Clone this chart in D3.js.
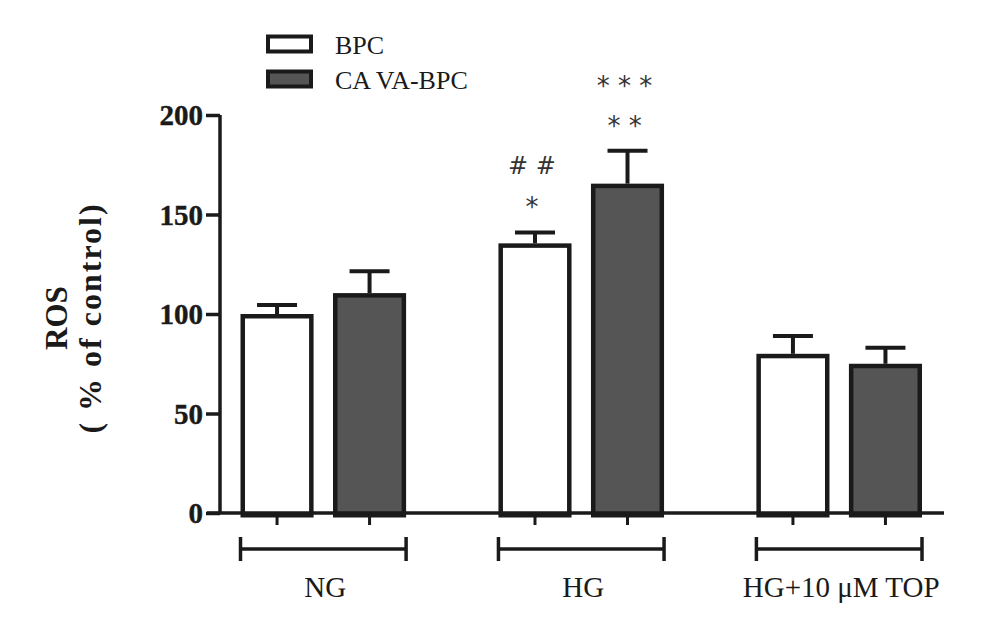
<!DOCTYPE html>
<html><head><meta charset="utf-8">
<script src="https://cdn.jsdelivr.net/npm/d3@7"></script>
<style>body{margin:0;background:#fff}svg{display:block}</style>
</head><body>
<svg id="c" width="985" height="631"></svg>
<script>
const groups = ["NG", "HG", "HG+10 μM TOP"];
const seriesNames = ["BPC", "CA VA-BPC"];
const bpcValues = [100, 135.5, 80];
const bpcErrors = [4.5, 5.5, 9];
const cavaValues = [110.5, 165.5, 75];
const cavaErrors = [11, 16.5, 8];
const yTicks = [0, 50, 100, 150, 200];
const annotations = [
  {group: "HG", series: "BPC", lines: ["# #", "*"]},
  {group: "HG", series: "CA VA-BPC", lines: ["* * *", "* *"]}
];

const fills = {"BPC": "#ffffff", "CA VA-BPC": "#555555"};
const ink = "#1a1a1a";
const svg = d3.select("#c");

const y = d3.scaleLinear().domain([0, 200]).range([513, 115]);
const x = d3.scaleBand().domain(groups).range([240.5, 922]).paddingInner(0.358).paddingOuter(0);
const xs = d3.scaleBand().domain(seriesNames).range([0, x.bandwidth()]).paddingInner(0.21).paddingOuter(0);

const data = [];
groups.forEach((g, i) => {
  data.push({group: g, series: "BPC", value: bpcValues[i], err: bpcErrors[i]});
  data.push({group: g, series: "CA VA-BPC", value: cavaValues[i], err: cavaErrors[i]});
});

const sw = 4.5;
// error bars
const eb = svg.append("g").attr("stroke", ink).attr("stroke-width", 4);
data.forEach(d => {
  const cx = x(d.group) + xs(d.series) + xs.bandwidth() / 2;
  eb.append("line").attr("x1", cx).attr("x2", cx).attr("y1", y(d.value)).attr("y2", y(d.value + d.err));
  eb.append("line").attr("x1", cx - 20).attr("x2", cx + 20).attr("y1", y(d.value + d.err)).attr("y2", y(d.value + d.err));
});

// bars
svg.append("g").selectAll("rect").data(data).join("rect")
  .attr("x", d => x(d.group) + xs(d.series) + sw / 2)
  .attr("width", xs.bandwidth() - sw)
  .attr("y", d => y(d.value) + sw / 2)
  .attr("height", d => y(0) - y(d.value))
  .attr("fill", d => fills[d.series])
  .attr("stroke", ink).attr("stroke-width", sw);

// y axis
const yAxis = d3.axisLeft(y).tickValues(yTicks).tickSize(14).tickPadding(3);
const ya = svg.append("g").attr("transform", "translate(220,0)").call(yAxis);
ya.select(".domain").attr("stroke", ink).attr("stroke-width", 3.5).attr("d", "M0,115V513");
ya.selectAll(".tick line").attr("stroke", ink).attr("stroke-width", 3.5);
ya.selectAll(".tick text").attr("fill", ink).attr("font-family", "Liberation Serif").attr("font-weight", "bold")
  .attr("font-size", 29).attr("dy", "0.34em").attr("stroke", ink).attr("stroke-width", 0.4);

// x axis baseline
svg.append("line").attr("x1", 207).attr("x2", 944).attr("y1", y(0)).attr("y2", y(0)).attr("stroke", ink).attr("stroke-width", 3.5);

// bottom ticks at bar centers
svg.append("g").selectAll("line").data(data).join("line")
  .attr("x1", d => x(d.group) + xs(d.series) + xs.bandwidth() / 2)
  .attr("x2", d => x(d.group) + xs(d.series) + xs.bandwidth() / 2)
  .attr("y1", y(0)).attr("y2", y(0) + 12)
  .attr("stroke", ink).attr("stroke-width", 3);

// group brackets
const br = svg.append("g").attr("stroke", ink).attr("stroke-width", 3.5);
groups.forEach(g => {
  const a = x(g), b = x(g) + x.bandwidth();
  br.append("line").attr("x1", a).attr("x2", b).attr("y1", 549).attr("y2", 549);
  br.append("line").attr("x1", a).attr("x2", a).attr("y1", 537).attr("y2", 561);
  br.append("line").attr("x1", b).attr("x2", b).attr("y1", 537).attr("y2", 561);
});
svg.append("g").selectAll("text").data(groups).join("text")
  .attr("x", g => x(g) + x.bandwidth() / 2 + 2)
  .attr("y", 597)
  .attr("text-anchor", "middle")
  .attr("font-family", "Liberation Serif").attr("font-size", 29).attr("fill", ink)
  .text(g => g);

// y title
const yt = svg.append("text").attr("transform", "translate(0,318) rotate(-90)")
  .attr("text-anchor", "middle").attr("font-family", "Liberation Serif").attr("font-weight", "bold")
  .attr("fill", ink);
yt.append("tspan").attr("x", 0).attr("y", 67).attr("font-size", 31).text("ROS");
yt.append("tspan").attr("x", 0).attr("y", 101).attr("font-size", 32).attr("letter-spacing", 2).text("( % of control)");

// legend
const lg = svg.append("g");
seriesNames.forEach((s, i) => {
  const yy = 35 + i * 35;
  lg.append("rect").attr("x", 268).attr("y", yy + 1.5).attr("width", 43).attr("height", 15)
    .attr("fill", fills[s]).attr("stroke", ink).attr("stroke-width", 4);
  lg.append("text").attr("x", 335).attr("y", yy + 19).attr("font-family", "Liberation Serif")
    .attr("font-size", 26).attr("fill", ink).text(s);
});

// significance annotations
annotations.forEach(a => {
  const d = data.find(d => d.group === a.group && d.series === a.series);
  const cx = x(d.group) + xs(d.series) + xs.bandwidth() / 2;
  const top = y(d.value + d.err);
  a.lines.slice().reverse().forEach((t, j) => {
    const isHash = t.indexOf("#") >= 0;
    svg.append("text").attr("x", cx - 3).attr("y", top - 18 - j * 40 + (isHash ? 0 : 2))
      .attr("text-anchor", "middle").attr("font-family", "DejaVu Sans")
      .attr("font-size", isHash ? 24 : 26).attr("fill", "#333").text(t);
  });
});
</script>
</body></html>
